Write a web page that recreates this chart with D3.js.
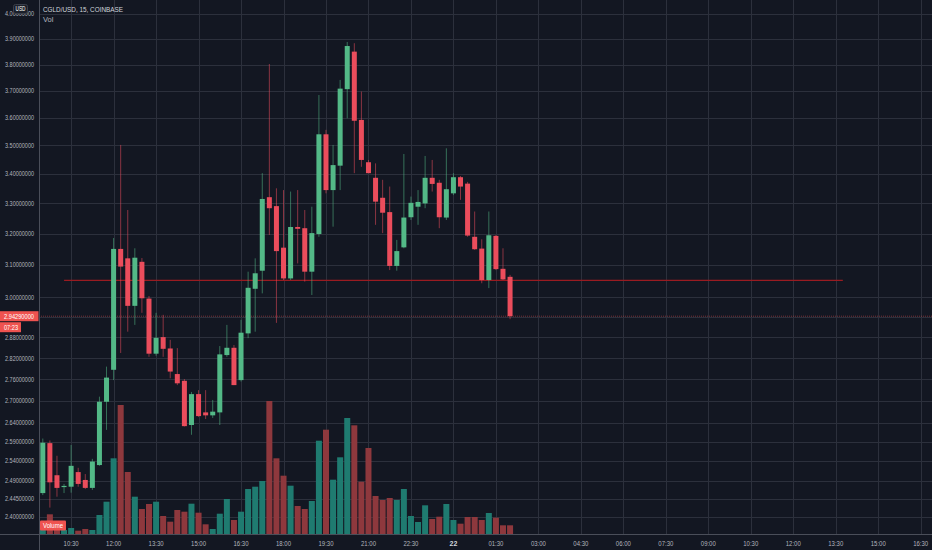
<!DOCTYPE html>
<html><head><meta charset="utf-8">
<script src="https://cdn.jsdelivr.net/npm/d3@7"></script>
<style>html,body{margin:0;padding:0;background:#131722;overflow:hidden}svg{display:block}</style>
</head><body><svg id="c" width="932" height="550"></svg>
<script>
// ---- DATA ----
const times = [
"2020-10-21 09:30","2020-10-21 09:45","2020-10-21 10:00","2020-10-21 10:15","2020-10-21 10:30","2020-10-21 10:45","2020-10-21 11:00","2020-10-21 11:15","2020-10-21 11:30","2020-10-21 11:45",
"2020-10-21 12:00","2020-10-21 12:15","2020-10-21 12:30","2020-10-21 12:45","2020-10-21 13:00","2020-10-21 13:15","2020-10-21 13:30","2020-10-21 13:45","2020-10-21 14:00","2020-10-21 14:15",
"2020-10-21 14:30","2020-10-21 14:45","2020-10-21 15:00","2020-10-21 15:15","2020-10-21 15:30","2020-10-21 15:45","2020-10-21 16:00","2020-10-21 16:15","2020-10-21 16:30","2020-10-21 16:45",
"2020-10-21 17:00","2020-10-21 17:15","2020-10-21 17:30","2020-10-21 17:45","2020-10-21 18:00","2020-10-21 18:15","2020-10-21 18:30","2020-10-21 18:45","2020-10-21 19:00","2020-10-21 19:15",
"2020-10-21 19:30","2020-10-21 19:45","2020-10-21 20:00","2020-10-21 20:15","2020-10-21 20:30","2020-10-21 20:45","2020-10-21 21:00","2020-10-21 21:15","2020-10-21 21:30","2020-10-21 21:45",
"2020-10-21 22:00","2020-10-21 22:15","2020-10-21 22:30","2020-10-21 22:45","2020-10-21 23:00","2020-10-21 23:15","2020-10-21 23:30","2020-10-21 23:45","2020-10-22 00:00","2020-10-22 00:15",
"2020-10-22 00:30","2020-10-22 00:45","2020-10-22 01:00","2020-10-22 01:15","2020-10-22 01:30","2020-10-22 01:45","2020-10-22 02:00"];

const open = [2.459,2.587,2.504,2.474,2.475,2.512,2.492,2.472,2.530,2.698,
2.787,3.151,3.121,2.974,3.110,2.996,2.833,2.881,2.848,2.775,
2.756,2.635,2.719,2.669,2.661,2.669,2.829,2.850,2.758,2.892,
3.026,3.082,3.321,3.291,3.155,3.058,3.222,3.218,3.079,3.199,
3.540,3.345,3.429,3.706,3.850,3.592,3.441,3.387,3.319,3.271,
3.097,3.156,3.254,3.289,3.300,3.387,3.370,3.253,3.334,3.389,
3.367,3.190,3.152,3.053,3.193,3.088,3.063];

const high = [2.599,2.594,2.554,2.482,2.582,2.523,2.507,2.546,2.712,2.796,
3.186,3.502,3.278,3.153,3.122,3.004,2.953,2.947,2.873,2.849,
2.761,2.725,2.730,2.730,2.703,2.855,2.917,2.858,2.932,3.079,
3.121,3.403,3.802,3.351,3.345,3.340,3.345,3.278,3.289,3.684,
3.556,3.502,3.741,3.888,3.883,3.697,3.449,3.437,3.380,3.357,
3.180,3.470,3.323,3.345,3.463,3.449,3.380,3.490,3.403,3.393,
3.373,3.273,3.182,3.273,3.196,3.153,3.069];

const low = [2.454,2.423,2.450,2.459,2.460,2.475,2.469,2.467,2.528,2.622,
2.758,2.835,2.897,2.917,2.953,2.824,2.827,2.824,2.763,2.744,
2.631,2.609,2.657,2.651,2.654,2.635,2.824,2.744,2.754,2.878,
2.897,3.012,3.196,2.923,3.053,3.053,3.105,3.048,3.007,3.190,
3.334,3.223,3.345,3.598,3.403,3.425,3.403,3.229,3.202,3.084,
3.082,3.153,3.245,3.229,3.284,3.340,3.218,3.245,3.328,3.312,
3.190,3.148,3.043,3.028,3.084,3.053,2.934];

const close = [2.588,2.486,2.472,2.477,2.528,2.482,2.472,2.539,2.698,2.765,
3.151,3.095,2.974,3.123,2.997,2.833,2.879,2.847,2.782,2.749,
2.632,2.719,2.659,2.661,2.671,2.831,2.850,2.744,2.894,3.029,
3.074,3.315,3.284,3.144,3.058,3.222,3.216,3.079,3.202,3.540,
3.345,3.431,3.708,3.872,3.589,3.449,3.403,3.306,3.269,3.097,
3.144,3.253,3.302,3.305,3.387,3.366,3.254,3.348,3.389,3.357,
3.194,3.150,3.053,3.195,3.087,3.055,2.9429];

// volume in thousands
const volume = [9,19.7,7,4,6,3.3,5,4,19,32.3,
75.7,129,62,37.3,25,30,32.3,18,12.3,24,
22.3,30.3,21.3,9.7,5,20.3,35,14,22.3,45,
47.3,53,133,75.7,58.3,48.3,28,25,33,93.3,
104.3,54.3,76.7,116,108.7,52.3,86,38,34,36,
34,45,18,12,28.7,15,17.3,30,14,10.3,
17,17,14,21,16.3,8.7,8.7];

const priceTicks = [4.0,3.9,3.8,3.7,3.6,3.5,3.4,3.3,3.2,3.1,3.0,2.94,2.88,2.82,2.76,2.70,2.64,2.59,2.54,2.49,2.445,2.40];

const timeTicks = ["2020-10-21 10:30","2020-10-21 12:00","2020-10-21 13:30","2020-10-21 15:00","2020-10-21 16:30","2020-10-21 18:00","2020-10-21 19:30","2020-10-21 21:00","2020-10-21 22:30","2020-10-22 00:00","2020-10-22 01:30","2020-10-22 03:00","2020-10-22 04:30","2020-10-22 06:00","2020-10-22 07:30","2020-10-22 09:00","2020-10-22 10:30","2020-10-22 12:00","2020-10-22 13:30","2020-10-22 15:00","2020-10-22 16:30"];
const timeTickLabels = ["10:30","12:00","13:30","15:00","16:30","18:00","19:30","21:00","22:30","22","01:30","03:00","04:30","06:00","07:30","09:00","10:30","12:00","13:30","15:00","16:30"];

const levelPrice = 3.052;
const levelStart = "2020-10-21 10:15";
const levelEnd = "2020-10-22 13:45";
const lastPrice = 2.9429;
const countdown = "07:23";
const title = "CGLD/USD, 15, COINBASE";

// ---- CHART ----
const W = 932, H = 550;
const plotL = 39, plotB = 534;
const parse = d3.timeParse("%Y-%m-%d %H:%M");
const svg = d3.select("#c");
const font = "'Liberation Sans', Roboto, sans-serif";
const colUp = "#53b987", colDn = "#eb4d5c";
const volUp = "#1f7b70", volDn = "#8e383d";

const x = d3.scaleTime()
  .domain([parse("2020-10-21 09:30"), parse("2020-10-22 16:30")])
  .range([42.8, 920.7]);
const y = d3.scaleLog().domain([2.4, 4.0]).range([517, 14]);
const yv = d3.scaleLinear().domain([0, d3.max(volume)]).range([plotB, 401]);

const data = times.map((t, i) => ({t: parse(t), o: open[i], h: high[i], l: low[i], c: close[i], v: volume[i]}));

svg.append("rect").attr("width", W).attr("height", H).attr("fill", "#131722");

// grid
const grid = svg.append("g");
grid.selectAll("line.h").data(priceTicks).join("line")
  .attr("x1", plotL).attr("x2", W).attr("y1", d => Math.round(y(d)) + 0.5).attr("y2", d => Math.round(y(d)) + 0.5)
  .attr("stroke", "#2c303c").attr("stroke-width", 1);
grid.selectAll("line.v").data(timeTicks).join("line")
  .attr("x1", d => Math.round(x(parse(d))) + 0.5).attr("x2", d => Math.round(x(parse(d))) + 0.5)
  .attr("y1", 0).attr("y2", plotB)
  .attr("stroke", "#2c303c").attr("stroke-width", 1);

// volume bars
svg.append("g").selectAll("rect").data(data).join("rect")
  .attr("x", d => x(d.t) - 3).attr("width", 6)
  .attr("y", d => yv(d.v)).attr("height", d => plotB - yv(d.v))
  .attr("fill", d => d.c >= d.o ? volUp : volDn);

// user horizontal level line
svg.append("line")
  .attr("x1", x(parse(levelStart))).attr("x2", x(parse(levelEnd)))
  .attr("y1", y(levelPrice)).attr("y2", y(levelPrice))
  .attr("stroke", "#9a1b21").attr("stroke-width", 1.3);

// last price line
svg.append("line")
  .attr("x1", plotL).attr("x2", W).attr("y1", y(lastPrice)).attr("y2", y(lastPrice))
  .attr("stroke", "#ef5350").attr("stroke-opacity", 0.45).attr("stroke-dasharray", "1,1");

// candles
const cg = svg.append("g");
cg.selectAll("line").data(data).join("line")
  .attr("x1", d => x(d.t)).attr("x2", d => x(d.t))
  .attr("y1", d => y(d.h)).attr("y2", d => y(d.l))
  .attr("stroke", d => d.c >= d.o ? colUp : colDn).attr("stroke-opacity", 0.55).attr("stroke-width", 1);
cg.selectAll("rect").data(data).join("rect")
  .attr("x", d => x(d.t) - 2.5).attr("width", 5)
  .attr("y", d => y(Math.max(d.o, d.c)))
  .attr("height", d => Math.max(1, Math.abs(y(d.o) - y(d.c))))
  .attr("fill", d => d.c >= d.o ? colUp : colDn);

// axes borders
svg.append("line").attr("x1", plotL + 0.5).attr("x2", plotL + 0.5).attr("y1", 0).attr("y2", H).attr("stroke", "#4a4e59");
svg.append("line").attr("x1", 0).attr("x2", W).attr("y1", plotB + 0.5).attr("y2", plotB + 0.5).attr("stroke", "#4a4e59");

// y labels
const fmt = d3.format(".8f");
svg.append("g").selectAll("text").data(priceTicks).join("text")
  .attr("x", 5).attr("y", d => y(d) + 2.3)
  .attr("textLength", 29).attr("lengthAdjust", "spacingAndGlyphs")
  .attr("font-family", font).attr("font-size", 7).attr("fill", "#b2b5be")
  .text(d => fmt(d));

// x labels
svg.append("g").selectAll("text").data(timeTicks).join("text")
  .attr("x", d => x(parse(d))).attr("y", 546)
  .attr("text-anchor", "middle")
  .attr("font-family", font).attr("font-size", 7)
  .attr("font-weight", (d, i) => timeTickLabels[i] === "22" ? "bold" : "normal")
  .attr("fill", (d, i) => timeTickLabels[i] === "22" ? "#d1d4dc" : "#b2b5be")
  .each(function(d, i) {
    const t = timeTickLabels[i];
    d3.select(this).text(t);
    if (t.length === 5) d3.select(this).attr("textLength", 15).attr("lengthAdjust", "spacingAndGlyphs");
  });

// last price label
const ly = y(lastPrice);
svg.append("rect").attr("x", 0).attr("y", ly - 5).attr("width", 38.5).attr("height", 10).attr("fill", "#ef5350");
svg.append("text").attr("x", 4).attr("y", ly + 2.4).attr("textLength", 30).attr("lengthAdjust", "spacingAndGlyphs")
  .attr("font-family", font).attr("font-size", 7).attr("fill", "#ffffff").text(fmt(lastPrice));
svg.append("rect").attr("x", 0).attr("y", ly + 6).attr("width", 21).attr("height", 10).attr("fill", "#ef5350");
svg.append("text").attr("x", 4).attr("y", ly + 13.4).attr("textLength", 14).attr("lengthAdjust", "spacingAndGlyphs")
  .attr("font-family", font).attr("font-size", 7).attr("fill", "#ffffff").text(countdown);

// volume label
svg.append("rect").attr("x", 40).attr("y", 520.5).attr("width", 26).attr("height", 10).attr("rx", 1).attr("fill", "#ef5350");
svg.append("text").attr("x", 53).attr("y", 528).attr("text-anchor", "middle").attr("textLength", 20).attr("lengthAdjust", "spacingAndGlyphs")
  .attr("font-family", font).attr("font-size", 7).attr("fill", "#ffffff").text("Volume");

// USD badge
svg.append("rect").attr("x", 13.5).attr("y", 4.5).attr("width", 14).attr("height", 9).attr("rx", 2)
  .attr("fill", "#1b1f2a").attr("stroke", "#3a3e49");
svg.append("text").attr("x", 20.5).attr("y", 11.3).attr("text-anchor", "middle").attr("textLength", 10).attr("lengthAdjust", "spacingAndGlyphs")
  .attr("font-family", font).attr("font-size", 6.5).attr("fill", "#ffffff").text("USD");

// header
svg.append("text").attr("x", 43).attr("y", 12).attr("textLength", 80).attr("lengthAdjust", "spacingAndGlyphs")
  .attr("font-family", font).attr("font-size", 7.5).attr("fill", "#d1d4dc").text(title);
svg.append("text").attr("x", 43).attr("y", 21.5)
  .attr("font-family", font).attr("font-size", 7.5).attr("fill", "#b2b5be").text("Vol");
</script>
</body></html>
